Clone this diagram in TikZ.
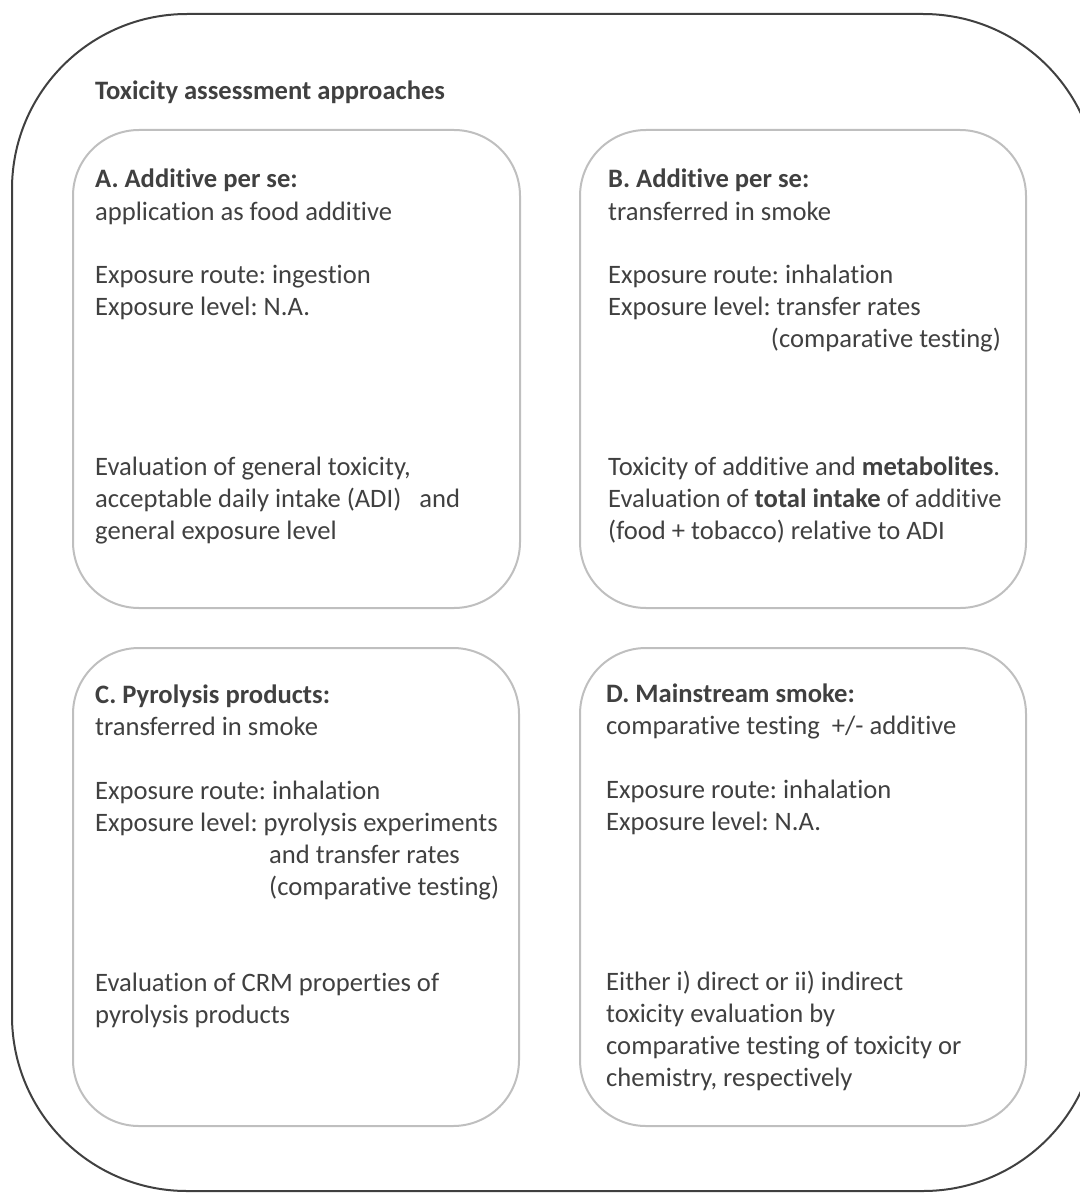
\documentclass[tikz,border=0pt]{standalone}
\usepackage{fontspec}
\setmainfont[Ligatures={NoCommon}]{Carlito}
\frenchspacing
\definecolor{txt}{HTML}{404040}
\definecolor{boxgray}{HTML}{BFBFBF}
\definecolor{outer}{HTML}{404040}
\begin{document}
\begin{tikzpicture}[x=1pt,y=-1pt,
  ln/.style={anchor=base west,inner sep=0pt,text=txt,font=\fontsize{26.6}{30}\selectfont},
  quad/.style={draw=boxgray,line width=2pt,rounded corners=66pt},
  frame/.style={draw=outer,line width=2pt,rounded corners=175pt}]
\useasboundingbox (0,0) rectangle (1079,1193);
\draw[frame] (12,14) rectangle (1098,1191);
\draw[quad] (73,130) rectangle (520,608);
\draw[quad] (580,130) rectangle (1026,608);
\draw[quad] (73,648) rectangle (519,1126);
\draw[quad] (580,648) rectangle (1026,1126);
\node[ln] (title) at (95,100) {\textbf{Toxicity assessment approaches}};
% A
\node[ln] (a1) at (95,188) {\textbf{A. Additive per se:}};
\node[ln] (a2) at (95,220) {application as food additive};
\node[ln] (a3) at (95,283) {Exposure route: ingestion};
\node[ln] (a4) at (95,315) {Exposure level: N.A.};
\node[ln] (a5) at (95,475) {Evaluation of general toxicity,};
\node[ln] (a6) at (95,507) {acceptable daily intake (ADI)\ \ \ and};
\node[ln] (a7) at (95,539) {general exposure level};
% B
\node[ln] (b1) at (608,188) {\textbf{B. Additive per se:}};
\node[ln] (b2) at (608,220) {transferred in smoke};
\node[ln] (b3) at (608,283) {Exposure route: inhalation};
\node[ln] (b4) at (608,315) {Exposure level: transfer rates};
\node[ln,anchor=base east] (b5) at (1001,347) {(comparative testing)};
\node[ln] (b6) at (608,475) {Toxicity of additive and \textbf{metabolites}.};
\node[ln] (b7) at (608,507) {Evaluation of \textbf{total intake} of additive};
\node[ln] (b8) at (608,539) {(food + tobacco) relative to ADI};
% C
\node[ln] (c1) at (95,703) {\textbf{C. Pyrolysis products:}};
\node[ln] (c2) at (95,735) {transferred in smoke};
\node[ln] (c3) at (95,799) {Exposure route: inhalation};
\node[ln] (c4) at (95,831) {Exposure level: pyrolysis experiments};
\node[ln] (c5) at (269,863) {and transfer rates};
\node[ln] (c6) at (269,895) {(comparative testing)};
\node[ln] (c7) at (95,991) {Evaluation of CRM properties of};
\node[ln] (c8) at (95,1023) {pyrolysis products};
% D
\node[ln] (d1) at (606,702) {\textbf{D. Mainstream smoke:}};
\node[ln] (d2) at (606,734) {comparative testing\ \ +/- additive};
\node[ln] (d3) at (606,798) {Exposure route: inhalation};
\node[ln] (d4) at (606,830) {Exposure level: N.A.};
\node[ln] (d5) at (606,990) {Either i) direct or ii) indirect};
\node[ln] (d6) at (606,1022) {toxicity evaluation by};
\node[ln] (d7) at (606,1054) {comparative testing of toxicity or};
\node[ln] (d8) at (606,1086) {chemistry, respectively};
\end{tikzpicture}
\end{document}
